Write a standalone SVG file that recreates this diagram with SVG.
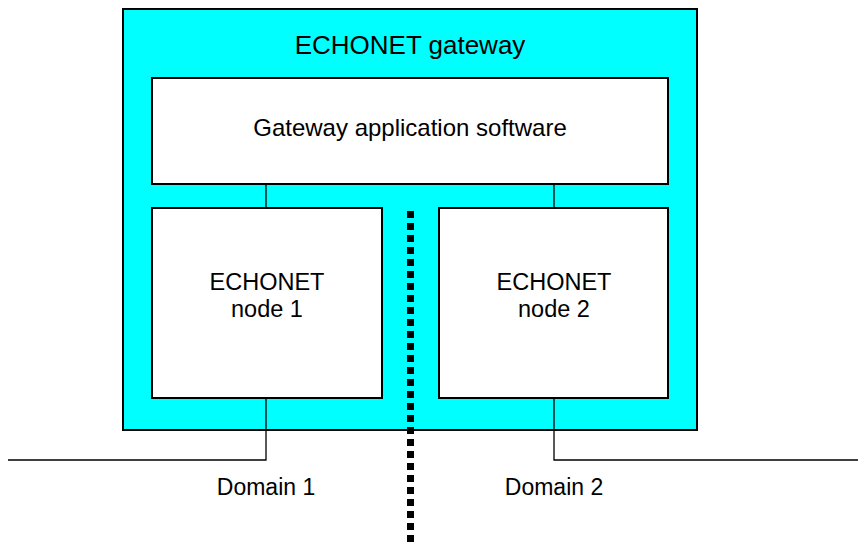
<svg xmlns="http://www.w3.org/2000/svg" width="858" height="544" viewBox="0 0 858 544">
<style>
text{font-family:"Liberation Sans",Arial,sans-serif;fill:#000;text-anchor:middle}
.box{fill:#fff;stroke:#000;stroke-width:2}
.ln{stroke:#000;stroke-width:1.3;fill:none}
.t{font-size:23px}
.n{font-size:23.5px}
</style>
<rect width="858" height="544" fill="#fff"/>
<g id="gateway">
<rect x="123" y="9" width="574" height="421" fill="#00ffff" stroke="#000" stroke-width="2"/>
<text x="410" y="54" font-size="26">ECHONET gateway</text>
</g>
<g id="app">
<rect class="box" x="152" y="78" width="516" height="106"/>
<text x="410" y="136" font-size="24">Gateway application software</text>
</g>
<g id="node1">
<rect class="box" x="152" y="208" width="230" height="190"/>
<text class="n" x="267" y="290">ECHONET</text>
<text class="n" x="267" y="317">node 1</text>
</g>
<g id="node2">
<rect class="box" x="439" y="208" width="229" height="190"/>
<text class="n" x="554" y="290">ECHONET</text>
<text class="n" x="554" y="317">node 2</text>
</g>
<g id="connectors">
<line class="ln" x1="266" y1="184" x2="266" y2="208"/>
<line class="ln" x1="554" y1="184" x2="554" y2="208"/>
<polyline class="ln" points="266,398 266,460 8,460"/>
<polyline class="ln" points="554,398 554,460 858,460"/>
<line x1="410.5" y1="211" x2="410.5" y2="544" stroke="#000" stroke-width="7" stroke-dasharray="7 5"/>
</g>
<g id="labels">
<text class="t" x="266" y="495">Domain 1</text>
<text class="t" x="554" y="495">Domain 2</text>
</g>
</svg>
